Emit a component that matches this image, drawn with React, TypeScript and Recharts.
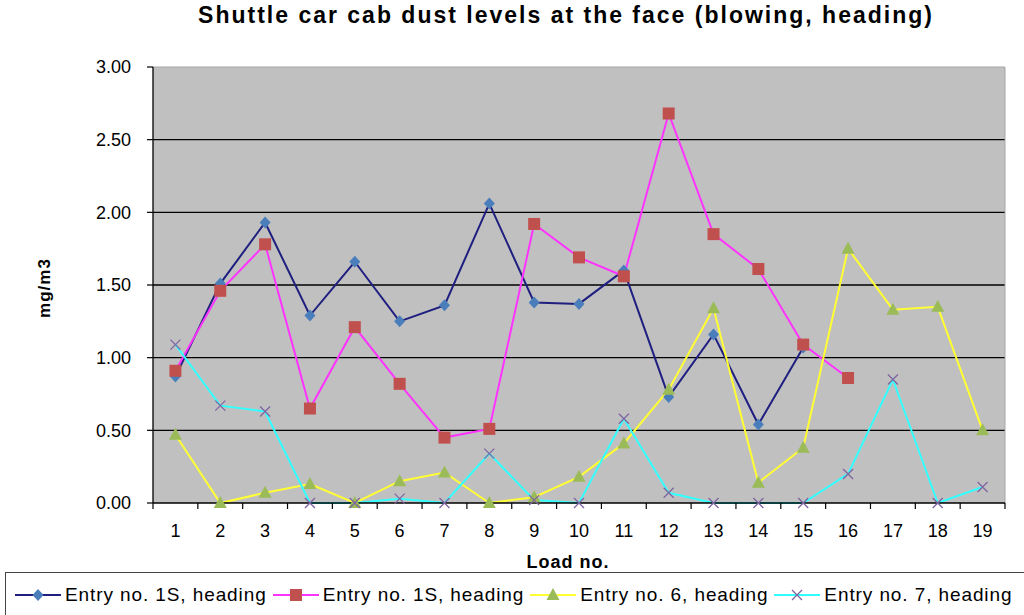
import React from "react";
import { CartesianGrid, Label, Line, LineChart, ReferenceLine, XAxis, YAxis } from "recharts";

// Load numbers along the x axis
const LOADS = [1, 2, 3, 4, 5, 6, 7, 8, 9, 10, 11, 12, 13, 14, 15, 16, 17, 18, 19];

// mg/m3 readings per series (null = no load recorded)
const ENTRY_1S_A = [0.87, 1.51, 1.93, 1.29, 1.66, 1.25, 1.36, 2.06, 1.38, 1.37, 1.6, 0.73, 1.16, 0.54, 1.07, null, null, null, null];
const ENTRY_1S_B = [0.91, 1.46, 1.78, 0.65, 1.21, 0.82, 0.45, 0.51, 1.92, 1.69, 1.56, 2.68, 1.85, 1.61, 1.09, 0.86, null, null, null];
const ENTRY_6 = [0.47, 0, 0.07, 0.13, 0, 0.15, 0.21, 0, 0.04, 0.18, 0.41, 0.78, 1.34, 0.14, 0.38, 1.75, 1.33, 1.35, 0.5];
const ENTRY_7 = [1.09, 0.67, 0.63, 0, 0, 0.03, 0, 0.34, 0.02, 0, 0.58, 0.07, 0, 0, 0, 0.2, 0.85, 0, 0.11];

const Y_TICKS = [0, 0.5, 1, 1.5, 2, 2.5, 3];
const X_TICKS = [0.5, ...LOADS.flatMap((n) => [n, n + 0.5])];

const FONT = '"Liberation Sans", Arial, sans-serif';

const SERIES = [
  { key: "a", name: "Entry no. 1S, heading", line: "#1f1f80", mark: "#4a7ebb", shape: "diamond", values: ENTRY_1S_A },
  { key: "b", name: "Entry no. 1S, heading", line: "#ff33ff", mark: "#c0504d", shape: "square", values: ENTRY_1S_B },
  { key: "c", name: "Entry no. 6, heading", line: "#ffff33", mark: "#9bbb59", shape: "triangle", values: ENTRY_6 },
  { key: "d", name: "Entry no. 7, heading", line: "#33ffff", mark: "#8064a2", shape: "cross", values: ENTRY_7 },
] as const;

type Shape = (typeof SERIES)[number]["shape"];

const rows = LOADS.map((load, i) => {
  const row: Record<string, number | null> = { load };
  SERIES.forEach((s) => {
    row[s.key] = s.values[i];
  });
  return row;
});

function Marker({ shape, cx, cy, color }: { shape: Shape; cx: number; cy: number; color: string }) {
  if (shape === "diamond") {
    return <path d={`M${cx},${cy - 6}L${cx + 5.5},${cy}L${cx},${cy + 6}L${cx - 5.5},${cy}Z`} fill={color} />;
  }
  if (shape === "square") {
    return <rect x={cx - 6} y={cy - 6} width={12} height={12} fill={color} />;
  }
  if (shape === "triangle") {
    return <path d={`M${cx},${cy - 7}L${cx + 6.5},${cy + 5}L${cx - 6.5},${cy + 5}Z`} fill={color} />;
  }
  return (
    <path
      d={`M${cx - 5},${cy - 5}L${cx + 5},${cy + 5}M${cx - 5},${cy + 5}L${cx + 5},${cy - 5}`}
      stroke={color}
      strokeWidth={1.3}
      fill="none"
    />
  );
}

function makeDot(shape: Shape, color: string) {
  return (props: any) => {
    const { cx, cy, index, value } = props;
    if (cx == null || cy == null || value == null) return <g key={`e-${index}`} />;
    return (
      <g key={`m-${index}`}>
        <Marker shape={shape} cx={cx} cy={cy} color={color} />
      </g>
    );
  };
}

function XTick({ x, y, payload }: any) {
  const v = payload.value as number;
  if (Number.isInteger(v)) {
    return (
      <text x={x} y={y + 34} textAnchor="middle" fontSize={18} fontFamily={FONT} fill="#000">
        {v}
      </text>
    );
  }
  return <line x1={x} x2={x} y1={y} y2={y + 6} stroke="#000" strokeWidth={1.2} />;
}

export default function App() {
  return (
    <div style={{ position: "absolute", left: 0, top: 0, width: 1024, height: 615, background: "#fff", fontFamily: FONT, overflow: "hidden" }}>
      <div
        style={{
          position: "absolute",
          left: 0,
          top: 2,
          width: 1132,
          textAlign: "center",
          fontWeight: "bold",
          fontSize: 23,
          letterSpacing: 2,
          color: "#000",
        }}
      >
        Shuttle car cab dust levels at the face (blowing, heading)
      </div>
      <LineChart width={1024} height={615} data={rows} margin={{ top: 67, right: 19, bottom: 52, left: 0 }}>
        <CartesianGrid
          fill="#c0c0c0"
          stroke="#000"
          strokeWidth={1.3}
          vertical={false}
          horizontalValues={[0.5, 1, 1.5, 2, 2.5]}
        />
        <ReferenceLine y={3} stroke="#a6a6a6" strokeWidth={1} />
        <ReferenceLine x={19.5} stroke="#a6a6a6" strokeWidth={1} />
        <XAxis
          dataKey="load"
          type="number"
          domain={[0.5, 19.5]}
          ticks={X_TICKS}
          interval={0}
          tickLine={false}
          tickSize={0}
          tickMargin={0}
          tick={<XTick />}
          axisLine={{ stroke: "#000", strokeWidth: 1.3 }}
          height={60}
        >
          <Label
            content={() => (
              <text
                x={568}
                y={568}
                textAnchor="middle"
                fontSize={18}
                letterSpacing={1}
                fontWeight="bold"
                fontFamily={FONT}
                fill="#000"
              >
                Load no.
              </text>
            )}
          />
        </XAxis>
        <YAxis
          type="number"
          domain={[0, 3]}
          ticks={Y_TICKS}
          interval={0}
          width={153}
          tickSize={6}
          tickMargin={16}
          tickFormatter={(v: number) => v.toFixed(2)}
          tick={{ fontSize: 18, fill: "#000", fontFamily: FONT }}
          tickLine={{ stroke: "#000", strokeWidth: 1.2 }}
          axisLine={{ stroke: "#000", strokeWidth: 1.3 }}
        >
          <Label
            content={() => (
              <text
                x={50}
                y={288}
                transform="rotate(-90 50 288)"
                textAnchor="middle"
                fontSize={17}
                letterSpacing={1}
                fontWeight="bold"
                fontFamily={FONT}
                fill="#000"
              >
                mg/m3
              </text>
            )}
          />
        </YAxis>
        {SERIES.map((s) => (
          <Line
            key={s.key}
            dataKey={s.key}
            name={s.name}
            type="linear"
            stroke={s.line}
            strokeWidth={2}
            dot={makeDot(s.shape, s.mark)}
            activeDot={false}
            connectNulls={false}
            isAnimationActive={false}
          />
        ))}
      </LineChart>
      <div
        style={{
          position: "absolute",
          left: 5,
          top: 572,
          width: 1060,
          height: 50,
          border: "1.5px solid #444",
          boxSizing: "border-box",
          display: "flex",
          alignItems: "center",
          paddingLeft: 9,
          fontSize: 19,
          letterSpacing: 0.9,
          color: "#000",
          whiteSpace: "nowrap",
        }}
      >
        {SERIES.map((s) => (
          <div key={s.key} style={{ display: "flex", alignItems: "center", flexShrink: 0, marginRight: 6, marginTop: -4 }}>
            <svg width={46} height={16} style={{ marginRight: 4, flexShrink: 0 }}>
              <line x1={0} x2={46} y1={8} y2={8} stroke={s.line} strokeWidth={2} />
              <Marker shape={s.shape} cx={23} cy={8} color={s.mark} />
            </svg>
            <span>{s.name}</span>
          </div>
        ))}
      </div>
    </div>
  );
}
